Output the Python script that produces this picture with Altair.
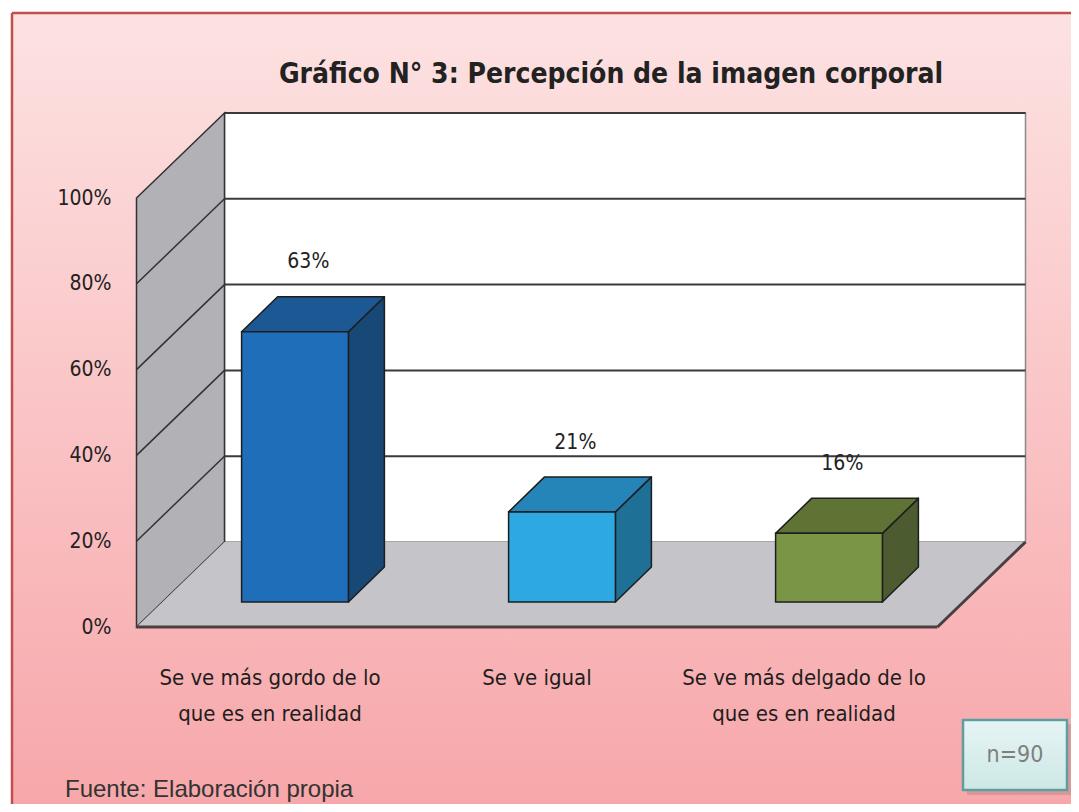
import altair as alt
import pandas as pd

# ---------------- data ----------------
categories = [
    "Se ve más gordo de lo que es en realidad",
    "Se ve igual",
    "Se ve más delgado de lo que es en realidad",
]
category_labels = [
    "Se ve más gordo de lo\nque es en realidad",
    "Se ve igual",
    "Se ve más delgado de lo\nque es en realidad",
]
values = [63, 21, 16]
front_colors = ["#1f6eba", "#2ea8e0", "#7a9545"]
top_colors = ["#1c5894", "#2585b9", "#5f7334"]
side_colors = ["#184876", "#1e7096", "#4c5c30"]
y_ticks = [0, 20, 40, 60, 80, 100]

title_text = "Gráfico N° 3: Percepción de la imagen corporal"
source_text = "Fuente: Elaboración propia"
n_text = "n=90"

# ---------------- geometry (scale units) ----------------
W, H = 1063, 796
PX_PER_PCT = 4.29
Y0_PX = 619          # front 0% line (local px)
UNIT_PX = 267        # one category slot
X0_PX = 262          # centre of first category (local px)
YMAX = Y0_PX / PX_PER_PCT
YMIN = -(H - Y0_PX) / PX_PER_PCT
XMIN = -X0_PX / UNIT_PX
XMAX = (W - X0_PX) / UNIT_PX

DX, DY = 88 / UNIT_PX, 85 / PX_PER_PCT      # full depth of the box
FX, FY = 25 / UNIT_PX, 25 / PX_PER_PCT      # bar front offset inside depth
BX, BY = 36 / UNIT_PX, 35 / PX_PER_PCT      # bar depth
HALF = 0.2
XL, XR = -0.5, 2.5

FONT = "DejaVu Sans Condensed, Liberation Sans Narrow, sans-serif"
FONT2 = "Liberation Sans, Arial, sans-serif"

xs = alt.Scale(domain=[XMIN, XMAX], nice=False, zero=False)
ys = alt.Scale(domain=[YMIN, YMAX], nice=False, zero=False)
yaxis = alt.Axis(values=y_ticks, labelExpr="datum.value + '%'", ticks=False, domain=False,
                 grid=False, title=None, labelFontSize=21, labelFont=FONT, labelColor="#222222",
                 offset=-103, labelPadding=0, labelBaseline="middle", zindex=5)


def X(f):
    return alt.X(f, type="quantitative", scale=xs, axis=None)


def Y(f):
    return alt.Y(f, type="quantitative", scale=ys, axis=yaxis)


one = pd.DataFrame({"a": [0]})

# ---------------- background ----------------
grad = alt.Gradient(gradient="linear",
                    stops=[alt.GradientStop(color="#fde2e2", offset=0),
                           alt.GradientStop(color="#f7a7aa", offset=1)],
                    x1=0, x2=0, y1=0, y2=1)
bg = alt.Chart(one).mark_rect(fill=grad).encode(
    x=alt.value(4), x2=alt.value(W), y=alt.value(5), y2=alt.value(H))
border_top = alt.Chart(one).mark_rule(color="#c0504d", strokeWidth=2.5).encode(
    x=alt.value(4), x2=alt.value(W), y=alt.value(5))
border_left = alt.Chart(one).mark_rule(color="#c0504d", strokeWidth=2.5).encode(
    x=alt.value(4), y=alt.value(5), y2=alt.value(H))

# ---------------- 3D box ----------------
back_df = pd.DataFrame({"x": [XL + DX], "x2": [XR + DX], "y": [DY], "y2": [100 + DY]})
back = alt.Chart(back_df).mark_rect(fill="#ffffff", stroke="#8a8a8a", strokeWidth=1.5).encode(
    x=X("x"), x2="x2", y=Y("y"), y2="y2")

grid_back_df = pd.DataFrame({"v": y_ticks[1:]})
grid_back_df["y"] = grid_back_df["v"] + DY
grid_back_df["x"] = XL + DX
grid_back_df["x2"] = XR + DX
grid_back = alt.Chart(grid_back_df).mark_rule(color="#3a3a3a", strokeWidth=2).encode(
    x=X("x"), x2="x2", y=Y("y"))

side_df = pd.DataFrame({"x": [XL, XL + DX], "y": [100, 100 + DY], "y2": [0, DY]})
side = alt.Chart(side_df).mark_area(fill="#b1b1b6", stroke="#333333", strokeWidth=1.5,
                                     orient="vertical").encode(
    x=X("x"), y=Y("y"), y2="y2")

rows = []
for v in y_ticks[1:-1]:
    rows.append({"v": v, "x": XL, "y": v})
    rows.append({"v": v, "x": XL + DX, "y": v + DY})
grid_side = alt.Chart(pd.DataFrame(rows)).mark_line(color="#333333", strokeWidth=1.5).encode(
    x=X("x"), y=Y("y"), detail="v:N")

floor_df = pd.DataFrame({"y": [0, DY], "x": [XL, XL + DX], "x2": [XR, XR + DX]})
floor = alt.Chart(floor_df).mark_area(fill="#c5c5c9", orient="horizontal").encode(
    y=Y("y"), x=X("x"), x2="x2")

edge_rows = [
    {"e": "front", "x": XL, "y": 0}, {"e": "front", "x": XR, "y": 0},
    {"e": "right", "x": XR, "y": 0}, {"e": "right", "x": XR + DX, "y": DY},
]
edges = alt.Chart(pd.DataFrame(edge_rows)).mark_line(color="#4a3f40", strokeWidth=3).encode(
    x=X("x"), y=Y("y"), detail="e:N", order="x:Q")

# ---------------- bars ----------------
front_rows, top_rows, side_rows, lab_rows, cat_rows = [], [], [], [], []
for i, (c, v) in enumerate(zip(categories, values)):
    x1, x2 = i - HALF + FX, i + HALF + FX
    yb, yt = FY, v + FY
    front_rows.append({"cat": c, "x": x1, "x2": x2, "y": yb, "y2": yt, "col": front_colors[i]})
    top_rows.append({"cat": c, "y": yt, "xa": x1, "xb": x2, "col": top_colors[i]})
    top_rows.append({"cat": c, "y": yt + BY, "xa": x1 + BX, "xb": x2 + BX, "col": top_colors[i]})
    side_rows.append({"cat": c, "x": x2, "ya": yt, "yb": yb, "col": side_colors[i]})
    side_rows.append({"cat": c, "x": x2 + BX, "ya": yt + BY, "yb": yb + BY, "col": side_colors[i]})
    lab_rows.append({"cat": c, "x": i + FX + 0.05, "y": v + FY + BY + 8, "t": f"{v}%"})
    cat_rows.append({"cat": c, "x": i, "y": -9.6, "t": category_labels[i]})

bar_side = alt.Chart(pd.DataFrame(side_rows)).mark_area(
    orient="vertical", stroke="#1e1e1e", strokeWidth=1.5, strokeJoin="round").encode(
    x=X("x"), y=Y("ya"), y2="yb", fill=alt.Fill("col:N", scale=None), detail="cat:N")
bar_top = alt.Chart(pd.DataFrame(top_rows)).mark_area(
    orient="horizontal", stroke="#1e1e1e", strokeWidth=1.5, strokeJoin="round").encode(
    y=Y("y"), x=X("xa"), x2="xb", fill=alt.Fill("col:N", scale=None), detail="cat:N")
bar_front = alt.Chart(pd.DataFrame(front_rows)).mark_rect(
    stroke="#1e1e1e", strokeWidth=1.5).encode(
    x=X("x"), x2="x2", y=Y("y"), y2="y2", fill=alt.Fill("col:N", scale=None))

labels = alt.Chart(pd.DataFrame(lab_rows)).mark_text(
    font=FONT, fontSize=21, color="#222222", baseline="middle", align="center").encode(
    x=X("x"), y=Y("y"), text="t:N")

cat_labels = alt.Chart(pd.DataFrame(cat_rows)).mark_text(
    font=FONT, fontSize=22, color="#1e1e1e", baseline="top", align="center",
    lineBreak="\n", lineHeight=36).encode(
    x=X("x"), y=Y("y"), text="t:N")

# ---------------- texts & box ----------------
title = alt.Chart(one).mark_text(font=FONT, fontSize=28, fontWeight="bold", color="#222222",
                                 align="center", baseline="middle").encode(
    x=alt.value(603), y=alt.value(67), text=alt.value(title_text))
source = alt.Chart(one).mark_text(font=FONT2, fontSize=24, color="#333333",
                                  align="left", baseline="middle").encode(
    x=alt.value(57), y=alt.value(782), text=alt.value(source_text))

box_grad = alt.Gradient(gradient="linear",
                        stops=[alt.GradientStop(color="#e6f4f4", offset=0),
                               alt.GradientStop(color="#cde8e5", offset=1)],
                        x1=0, x2=0, y1=0, y2=1)
box_shadow = alt.Chart(one).mark_rect(fill="#9a7a7a", opacity=0.35).encode(
    x=alt.value(959), x2=alt.value(1063), y=alt.value(716), y2=alt.value(787))
box = alt.Chart(one).mark_rect(fill=box_grad, stroke="#5f9ea0", strokeWidth=2.5).encode(
    x=alt.value(955), x2=alt.value(1059), y=alt.value(712), y2=alt.value(782))
box_text = alt.Chart(one).mark_text(font=FONT, fontSize=23, color="#7f7f7f",
                                    align="center", baseline="middle").encode(
    x=alt.value(1007), y=alt.value(747), text=alt.value(n_text))

chart = alt.layer(
    bg, border_top, border_left,
    back, grid_back, side, grid_side, floor, edges,
    bar_side, bar_top, bar_front, labels, cat_labels,
    title, source, box_shadow, box, box_text,
).properties(
    width=W, height=H, padding=0,
    autosize=alt.AutoSizeParams(type="none"),
).configure_view(stroke=None)

chart.save("out.html", embed_options={"renderer": "svg", "actions": False})
